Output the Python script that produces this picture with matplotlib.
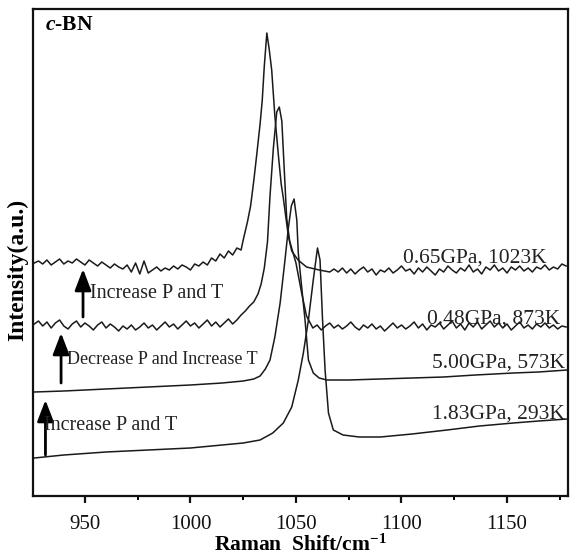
import matplotlib
matplotlib.use("Agg")
import matplotlib.pyplot as plt

plt.rcParams['font.family'] = ['Liberation Serif', 'DejaVu Serif']
plt.rcParams['mathtext.fontset'] = 'custom'
plt.rcParams['mathtext.rm'] = 'Liberation Serif'
plt.rcParams['mathtext.it'] = 'Liberation Serif:italic:bold'
plt.rcParams['mathtext.bf'] = 'Liberation Serif:bold'

# ---------------- data (Raman shift in cm^-1, intensity in a.u.) ----------------
# 0.65 GPa, 1023 K
x_065 = [926, 928, 930, 932, 934, 936, 938, 940, 942, 944,
         946, 948, 950, 952, 954, 956, 958, 960, 962, 964,
         966, 968, 970, 972, 974, 976, 978, 980, 982, 984,
         986, 988, 990, 992, 994, 996, 998, 1000, 1002, 1004,
         1006, 1008, 1010, 1012, 1014, 1016, 1018, 1020, 1022, 1024,
         1025, 1027, 1028.5, 1030, 1031.5, 1033, 1034, 1035, 1036.2, 1037.3,
         1038.5, 1040, 1041.7, 1043, 1044, 1046.4, 1048, 1051, 1055, 1061, 1066,
         1068, 1070, 1072, 1074, 1076, 1078, 1080, 1082, 1084, 1086, 1088,
         1090, 1092, 1094, 1096, 1098, 1100, 1102, 1104, 1106, 1108,
         1110, 1112, 1114, 1116, 1118, 1120, 1122, 1124, 1126, 1128,
         1130, 1132, 1134, 1136, 1138, 1140, 1142, 1144, 1146, 1148,
         1150, 1152, 1154, 1156, 1158, 1160, 1162, 1164, 1166, 1168,
         1170, 1172, 1174, 1176, 1178]
y_065 = [233, 235, 232, 236, 231, 234, 237, 232, 235, 233,
         237, 234, 231, 236, 233, 230, 234, 231, 228, 232,
         229, 227, 231, 224, 233, 222, 235, 223, 226, 229,
         225, 228, 226, 230, 227, 231, 229, 226, 232, 230,
         234, 231, 238, 235, 242, 238, 245, 241, 248, 246,
         256, 274, 290, 315, 343, 372, 395, 430, 463, 447,
         426, 380, 340, 312, 298, 260, 245, 236, 229, 226, 224,
         227, 224, 228, 223, 227, 222, 226, 229, 224, 227, 221,
         226, 224, 228, 223, 226, 230, 225, 227, 222, 228,
         224, 229, 225, 221, 227, 224, 230, 226, 223, 228,
         225, 231, 224, 227, 222, 229, 226, 231, 225, 228,
         223, 229, 226, 230, 225, 228, 224, 229, 227, 231,
         226, 229, 227, 232, 230]

# 0.48 GPa, 873 K
x_048 = [926, 928, 930, 932, 934, 936, 938, 940, 942, 944,
         946, 948, 950, 952, 954, 956, 958, 960, 962, 964,
         966, 968, 970, 972, 974, 976, 978, 980, 982, 984,
         986, 988, 990, 992, 994, 996, 998, 1000, 1002, 1004,
         1006, 1008, 1010, 1012, 1014, 1016, 1018, 1020, 1022, 1024,
         1026,
         1028, 1030, 1032, 1033.5, 1035, 1036.5, 1037.7, 1039.3, 1040.9, 1042.1,
         1043.3, 1044, 1045.6, 1047, 1048.5, 1050, 1052.7, 1055, 1057,
         1058, 1060, 1062, 1064, 1066, 1068, 1070, 1072, 1074, 1076,
         1078, 1080, 1082, 1084, 1086, 1088, 1090, 1092, 1094, 1096,
         1098, 1100, 1102, 1104, 1106, 1108, 1110, 1112, 1114, 1116,
         1118, 1120, 1122, 1124, 1126, 1128, 1130, 1132, 1134, 1136,
         1138, 1140, 1142, 1144, 1146, 1148, 1150, 1152, 1154, 1156,
         1158, 1160, 1162, 1164, 1166, 1168, 1170, 1172, 1174, 1176,
         1178]
y_048 = [172, 175, 170, 174, 168, 173, 176, 170, 167, 172,
         175, 169, 173, 170, 166, 171, 174, 168, 172, 169,
         165, 170, 167, 171, 166, 169, 173, 168, 171, 166,
         170, 174, 169, 172, 167, 171, 175, 170, 173, 168,
         172, 176, 170, 174, 169, 173, 177, 172, 176, 181,
         185,
         190, 194, 202, 212, 228, 254, 300, 348, 384, 389,
         375, 345, 278, 255, 244, 233, 203, 180, 172,
         168, 171, 166, 170, 173, 168, 171, 167, 170, 174,
         169, 166, 171, 168, 172, 167, 170, 165, 169, 173,
         168, 171, 167, 170, 174, 168, 172, 166, 171, 169,
         173, 167, 171, 175, 168, 172, 166, 173, 169, 174,
         167, 171, 175, 169, 173, 168, 172, 166, 170, 174,
         168, 171, 167, 172, 169, 173, 168, 171, 167, 170,
         169]

# 5.00 GPa, 573 K
x_500 = [926, 940, 960, 980, 1000, 1015, 1025, 1030, 1033, 1035.5,
         1037.7, 1040, 1042.5, 1044.8, 1046.4, 1047.8, 1049.1, 1050.4, 1051.1, 1052.7,
         1054.3, 1055.9, 1058.2, 1061, 1064.6, 1075, 1090, 1105, 1120, 1135,
         1153, 1165, 1178.5]
y_500 = [104, 105, 107, 109, 111, 113, 115, 117, 120, 127,
         136, 159, 193, 236, 268, 290, 297, 276, 243, 209,
         176, 136, 123, 118, 116, 116, 117, 118, 119, 121,
         123, 124, 126]

# 1.83 GPa, 293 K
x_183 = [926, 940, 960, 980, 1000, 1015, 1025, 1033, 1039, 1044,
         1048, 1051.1, 1053.5, 1055.9, 1058.2, 1060.2, 1061.4, 1062.6, 1063.8, 1065.4,
         1067.7, 1072.3, 1080, 1090, 1105, 1121.6, 1137, 1153, 1165, 1178.5]
y_183 = [38, 41, 44, 46, 48, 51, 53, 56, 63, 73,
         89, 116, 143, 176, 216, 248, 236, 176, 126, 83,
         66, 61, 59, 59, 62, 66, 70, 73, 75, 77]

curve_labels = ["0.65GPa, 1023K", "0.48GPa, 873K", "5.00GPa, 573K", "1.83GPa, 293K"]
x_ticks = [950, 1000, 1050, 1100, 1150]
x_minor = [975, 1025, 1075, 1125, 1175]

# ---------------- figure ----------------
fig = plt.figure(figsize=(5.72, 5.59), dpi=100)
ax = fig.add_axes([33 / 572, 63 / 559, 535 / 572, 487 / 559])

for xs, ys in [(x_065, y_065), (x_048, y_048), (x_500, y_500), (x_183, y_183)]:
    ax.plot(xs, ys, color='#1a1a1a', lw=1.1)

ax.set_xlim(925.4, 1178.9)
ax.set_ylim(0, 487)

ax.set_xticks(x_ticks)
ax.set_xticks(x_minor, minor=True)
ax.set_xticklabels([str(t) for t in x_ticks])
ax.set_yticks([])
ax.tick_params(axis='x', which='major', direction='out', length=5, width=1.6,
               labelsize=15, pad=9, colors='#111111')
ax.tick_params(axis='x', which='minor', direction='out', length=3, width=1.4)
for s in ax.spines.values():
    s.set_linewidth(1.6)
    s.set_color('#111111')

ax.set_xlabel(r'Raman  Shift/cm$^{\mathbf{-1}}$', fontsize=15.5, fontweight='bold')
ax.xaxis.set_label_coords(0.499, -0.1006)
ax.xaxis.label.set_verticalalignment('center')
ax.set_ylabel('Intensity(a.u.)', fontsize=17, fontweight='bold')
ax.yaxis.set_label_coords(-0.028, 0.464)
ax.yaxis.label.set_verticalalignment('center')

# panel tag
ax.text(931.1, 471, r'$c$-BN', fontsize=15.5, fontweight='bold', ha='left', va='center')

# curve labels
label_pos = [(1169, 238), (1175, 177), (1177.5, 133), (1177.5, 82)]
for lab, (lx, ly) in zip(curve_labels, label_pos):
    ax.text(lx, ly, lab, fontsize=15.5, ha='right', va='center', color='#222222')

# arrows
arrow_spec = [((949.1, 179), (949.1, 227)),
              ((938.7, 113), (938.7, 163)),
              ((931.3, 41), (931.3, 96))]
for tail, tip in arrow_spec:
    ax.annotate('', xy=tip, xytext=tail,
                arrowprops=dict(arrowstyle='-|>,head_length=1.3,head_width=0.5',
                                lw=2.0, color='black', shrinkA=0, shrinkB=0,
                                mutation_scale=10))

ax.text(952.4, 202, 'Increase P and T', fontsize=14.5, ha='left', va='center', color='#222222')
ax.text(941.5, 137, 'Decrease P and Increase T', fontsize=13, ha='left', va='center', color='#222222')
ax.text(930.6, 71, 'Increase P and T', fontsize=14.5, ha='left', va='center', color='#222222')

fig.savefig('out.png', dpi=100)
